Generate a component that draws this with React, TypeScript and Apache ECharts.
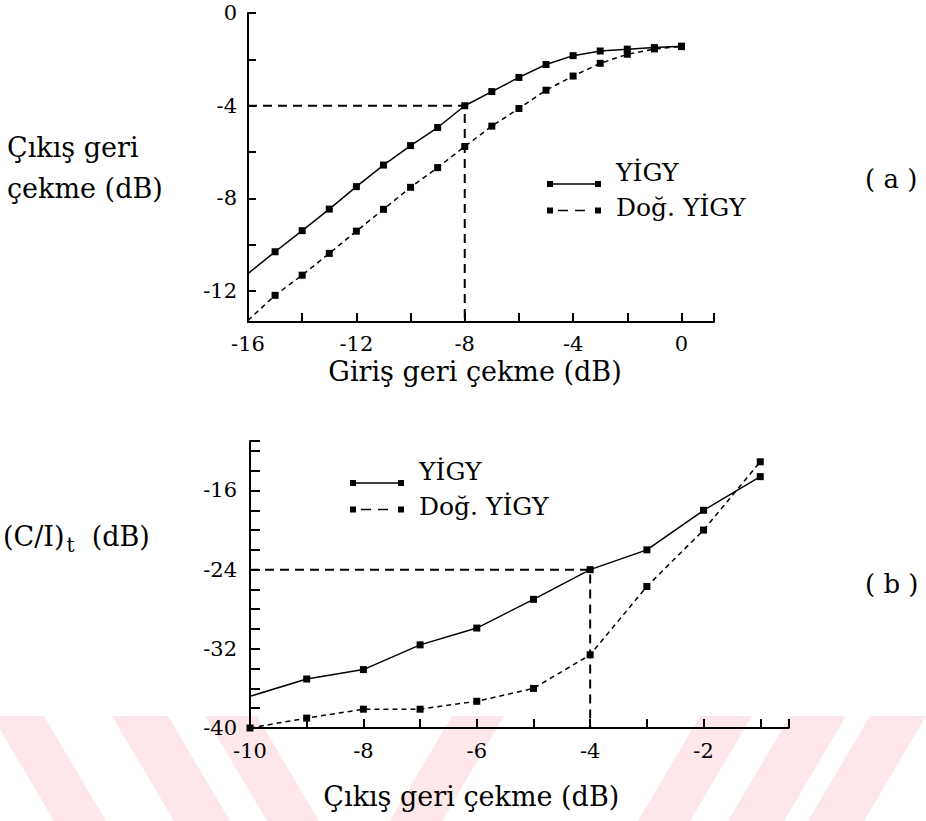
import React, { useEffect, useRef } from 'react';
import * as echarts from 'echarts';

// ---------- Chart (a): output back-off vs input back-off ----------
const inputBackoffA = [-16, -15, -14, -13, -12, -11, -10, -9, -8, -7, -6, -5, -4, -3, -2, -1, 0];
const outYigyA = [-11.24, -10.3, -9.39, -8.46, -7.49, -6.56, -5.72, -4.94, -4.0, -3.39, -2.78, -2.22, -1.84, -1.64, -1.56, -1.49, -1.43];
const outDogA = [-13.26, -12.18, -11.31, -10.37, -9.41, -8.47, -7.52, -6.67, -5.76, -4.88, -4.12, -3.33, -2.72, -2.17, -1.78, -1.55, -1.45];
const guideAX = [-16, -8, -8];
const guideAY = [-4, -4, -13.33];
const xLabelsA = [-16, -12, -8, -4, 0];
const yTicksA = [0, -2, -4, -6, -8, -10, -12];
const yLabelsA = [0, -4, -8, -12];

// ---------- Chart (b): (C/I)t vs output back-off ----------
const outBackoffB = [-10, -9, -8, -7, -6, -5, -4, -3, -2, -1];
const ciYigyB = [-36.8, -35.05, -34.1, -31.6, -29.9, -27.0, -24.0, -22.0, -18.0, -14.6];
const ciDogB = [-40.0, -39.0, -38.1, -38.1, -37.3, -36.0, -32.6, -25.7, -20.0, -13.1];
const guideBX = [-10, -4, -4];
const guideBY = [-24, -24, -40];

const seriesNames = ['YİGY', 'Doğ. YİGY'];

const SERIF = "'DejaVu Serif', serif";
const TICKFONT = "'DejaVu Serif', serif";
const BLACK = '#000';

// legend icons: an invisible zero-area line at the top sets the icon box, so
// the visible line sits lower than the centre of its label (as in the original)
const solidIcon = 'path://M0,0L54,0M0,24h6v6h-6zM48,24h6v6h-6zM6,26.3h42v1.4h-42z';
const dashIcon = 'path://M0,0L54,0M0,6h6v6h-6zM48,6h6v6h-6zM11,8.3h10v1.4h-10zM28,8.3h10v1.4h-10z';

const zip = (xs: number[], ys: number[], noFirstSymbol = false) =>
  xs.map((x, i) => (noFirstSymbol && i === 0 ? { value: [x, ys[i]], symbol: 'none' } : [x, ys[i]]));

function band(xTop: number, w: number, dx: number) {
  const t = 716;
  const b = 821;
  return {
    type: 'polygon',
    z: -10,
    silent: true,
    shape: { points: [[xTop, t], [xTop + w, t], [xTop + w + dx, b], [xTop + dx, b]] },
    style: { fill: '#fde7ea' },
  };
}

function legendFor(left: number, top: number) {
  return {
    orient: 'vertical',
    left,
    top,
    padding: 0,
    itemGap: 8,
    itemWidth: 54,
    itemHeight: 30,
    symbolKeepAspect: true,
    selectedMode: false,
    itemStyle: { borderWidth: 0 },
    textStyle: { fontFamily: SERIF, fontSize: 25, color: BLACK, padding: [0, 0, 0, 10] },
    data: [
      { name: seriesNames[0], icon: solidIcon },
      { name: seriesNames[1], icon: dashIcon },
    ],
  };
}

const axisLineStyle = { show: true, onZero: false, lineStyle: { color: BLACK, width: 2 } };
const tickStyle = { show: true, inside: true, length: 9, lineStyle: { color: BLACK, width: 2 } };
const tickLabel = { color: BLACK, fontFamily: TICKFONT, fontSize: 21 };

const option: any = {
  animation: false,
  backgroundColor: '#fff',
  grid: [
    { left: 248, top: 13, width: 466, height: 309 },
    { left: 249, top: 441, width: 539.6, height: 287 },
  ],
  legend: [legendFor(547, 157), legendFor(350, 456)],
  xAxis: [
    {
      type: 'value',
      gridIndex: 0,
      min: -16,
      max: 1.2,
      interval: 2,
      axisLine: axisLineStyle,
      axisTick: tickStyle,
      splitLine: { show: false },
      axisLabel: {
        ...tickLabel,
        margin: 11,
        formatter: (v: number) => (xLabelsA.includes(v) ? String(v) : ''),
      },
      name: 'Giriş geri çekme (dB)',
      nameLocation: 'middle',
      nameGap: 36,
      nameTextStyle: { fontFamily: SERIF, fontSize: 27, color: BLACK, padding: [0, 12, 0, 0] },
    },
    {
      type: 'value',
      gridIndex: 1,
      min: -10,
      max: -0.5,
      interval: 1,
      axisLine: axisLineStyle,
      axisTick: tickStyle,
      splitLine: { show: false },
      axisLabel: {
        ...tickLabel,
        margin: 12,
        formatter: (v: number) => (v % 2 === 0 ? String(v) : ''),
      },
      name: 'Çıkış geri çekme (dB)',
      nameLocation: 'middle',
      nameGap: 55,
      nameTextStyle: { fontFamily: SERIF, fontSize: 27, color: BLACK, padding: [0, 96, 0, 0] },
    },
  ],
  yAxis: [
    {
      type: 'value',
      gridIndex: 0,
      min: -13.33,
      max: 0,
      axisLine: axisLineStyle,
      axisTick: { ...tickStyle, length: 8, customValues: yTicksA },
      splitLine: { show: false },
      axisLabel: { ...tickLabel, margin: 11, customValues: yLabelsA },
      name: 'Çıkış geri\nçekme (dB)',
      nameLocation: 'middle',
      nameRotate: 0,
      nameGap: 241,
      nameTextStyle: { fontFamily: SERIF, fontSize: 27, color: BLACK, align: 'left', lineHeight: 41 },
    },
    {
      type: 'value',
      gridIndex: 1,
      min: -40,
      max: -11,
      interval: 2,
      axisLine: axisLineStyle,
      axisTick: { ...tickStyle, length: 10 },
      splitLine: { show: false },
      axisLabel: {
        ...tickLabel,
        margin: 13,
        formatter: (v: number) => (v % 8 === 0 ? String(v) : ''),
      },
      name: '{m|(C/I)}{s|t}{m|  (dB)}',
      nameLocation: 'middle',
      nameRotate: 0,
      nameGap: 247,
      nameTextStyle: {
        align: 'left',
        padding: [0, 0, 96, 0],
        rich: {
          m: { fontFamily: SERIF, fontSize: 27, color: BLACK, lineHeight: 30 },
          s: { fontFamily: SERIF, fontSize: 20, color: BLACK, lineHeight: 20, padding: [16, 0, 0, 2] },
        },
      },
    },
  ],
  graphic: [
    band(-8, 52, 62),
    band(112, 56, 62),
    band(205, 52, 62),
    band(452, 52, -62),
    band(700, 52, -62),
    band(790, 56, -62),
    band(870, 56, -62),
    {
      type: 'text',
      left: 865,
      top: 166,
      style: { text: '( a )', font: `26px ${SERIF}`, fill: BLACK },
    },
    {
      type: 'text',
      left: 865,
      top: 571,
      style: { text: '( b )', font: `26px ${SERIF}`, fill: BLACK },
    },
  ],
  series: [
    {
      name: 'guideA',
      type: 'line',
      xAxisIndex: 0,
      yAxisIndex: 0,
      data: zip(guideAX, guideAY),
      symbol: 'none',
      lineStyle: { color: BLACK, width: 2, type: [9, 6] },
      z: 1,
      silent: true,
    },
    {
      name: seriesNames[0],
      type: 'line',
      xAxisIndex: 0,
      yAxisIndex: 0,
      data: zip(inputBackoffA, outYigyA, true),
      symbol: 'rect',
      symbolSize: 7,
      lineStyle: { color: BLACK, width: 1.5 },
      itemStyle: { color: BLACK },
      emphasis: { disabled: true },
    },
    {
      name: seriesNames[1],
      type: 'line',
      xAxisIndex: 0,
      yAxisIndex: 0,
      data: zip(inputBackoffA, outDogA, true),
      symbol: 'rect',
      symbolSize: 7,
      lineStyle: { color: BLACK, width: 1.5, type: [5, 4] },
      itemStyle: { color: BLACK },
      emphasis: { disabled: true },
    },
    {
      name: 'guideB',
      type: 'line',
      xAxisIndex: 1,
      yAxisIndex: 1,
      data: zip(guideBX, guideBY),
      symbol: 'none',
      lineStyle: { color: BLACK, width: 2, type: [9, 6] },
      z: 1,
      silent: true,
    },
    {
      name: seriesNames[0],
      type: 'line',
      xAxisIndex: 1,
      yAxisIndex: 1,
      data: zip(outBackoffB, ciYigyB, true),
      symbol: 'rect',
      symbolSize: 7,
      lineStyle: { color: BLACK, width: 1.5 },
      itemStyle: { color: BLACK },
      emphasis: { disabled: true },
    },
    {
      name: seriesNames[1],
      type: 'line',
      xAxisIndex: 1,
      yAxisIndex: 1,
      data: zip(outBackoffB, ciDogB),
      symbol: 'rect',
      symbolSize: 7,
      lineStyle: { color: BLACK, width: 1.5, type: [5, 4] },
      itemStyle: { color: BLACK },
      emphasis: { disabled: true },
    },
  ],
};

export default function App() {
  const ref = useRef<HTMLDivElement>(null);
  useEffect(() => {
    document.body.style.margin = '0';
    const chart = echarts.init(ref.current!, null, { renderer: 'svg' });
    chart.setOption(option);
    return () => chart.dispose();
  }, []);
  return <div ref={ref} style={{ width: 926, height: 821 }} />;
}
